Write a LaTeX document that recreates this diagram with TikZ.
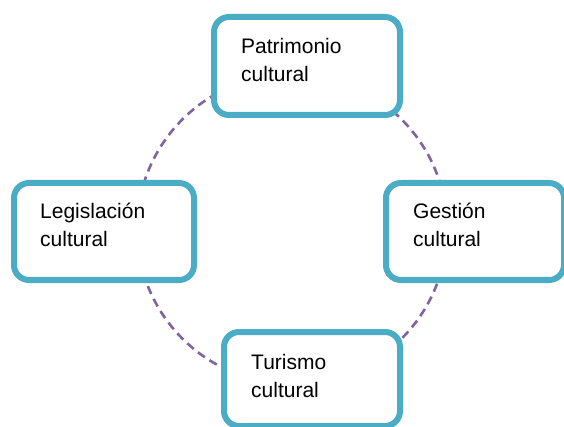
\documentclass[tikz,border=0pt]{standalone}
\usepackage{fontspec}
\setmainfont{Liberation Sans}
\definecolor{boxaqua}{RGB}{75,172,198}
\definecolor{ringpurple}{RGB}{128,100,162}
\begin{document}
\begin{tikzpicture}[x=1pt,y=-1pt,
  cbox/.style={draw=boxaqua, line width=6pt, fill=white, rounded corners=15pt,
    rectangle, inner sep=0pt},
  lbl/.style={anchor=base west, inner sep=0pt, text=black,
    font=\fontsize{21}{28}\selectfont},
  ring/.style={draw=ringpurple, line width=2.6pt, dash pattern=on 8.5pt off 5.5pt}]
\useasboundingbox (0,0) rectangle (564,427);
\clip (0,0) rectangle (564,427);
\coordinate (c) at (292,229);
\draw[ring] (c) circle[radius=155];
\node[cbox, minimum width=186pt, minimum height=98pt] (pat) at (307,66) {};
\node[cbox, minimum width=180pt, minimum height=97pt] (leg) at (104,231.5) {};
\node[cbox, minimum width=178pt, minimum height=97pt] (ges) at (475,231.5) {};
\node[cbox, minimum width=176pt, minimum height=94pt] (tur) at (312,379) {};
\node[lbl] (patt) at (241,54) {\vtop{\hbox{Patrimonio}\hbox{cultural}}};
\node[lbl] (legt) at (40,219) {\vtop{\hbox{Legislación}\hbox{cultural}}};
\node[lbl] (gest) at (413,219) {\vtop{\hbox{Gestión}\hbox{cultural}}};
\node[lbl] (turt) at (251,369) {\vtop{\hbox{Turismo}\hbox{cultural}}};
\end{tikzpicture}
\end{document}
